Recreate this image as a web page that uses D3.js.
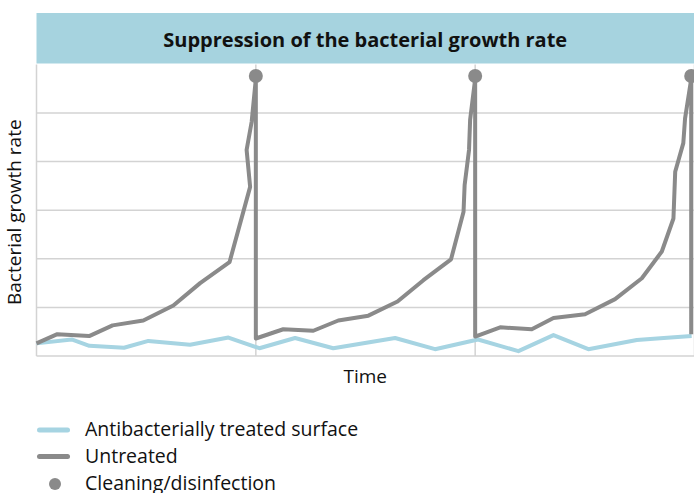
<!DOCTYPE html>
<html>
<head>
<meta charset="utf-8">
<script src="https://cdn.jsdelivr.net/npm/d3@7"></script>
<style>
  html, body { margin: 0; padding: 0; background: #fff; }
  svg { display: block; }
</style>
</head>
<body>
<svg id="chart"></svg>
<script>
/* ---------- data ---------- */
const TITLE = 'Suppression of the bacterial growth rate';
const Y_LABEL = 'Bacterial growth rate';
const X_LABEL = 'Time';

// [time, rate] – untreated surface, drops to the floor after each cleaning
const untreated = [
  [0, 0.26], [0.95, 0.45], [2.4, 0.41], [3.47, 0.63], [4.87, 0.73], [6.24, 1.04],
  [7.46, 1.50], [8.8, 1.93], [9.74, 3.48], [9.58, 4.24], [9.81, 4.82], [10, 5.7], [10, 0.36],
  [11.25, 0.55], [12.62, 0.52], [13.76, 0.73], [15.13, 0.83], [16.46, 1.12], [17.64, 1.56],
  [18.9, 1.99], [19.47, 2.97], [19.52, 3.52], [19.72, 4.24], [19.77, 4.86], [20, 5.7], [20, 0.40],
  [21.14, 0.59], [22.58, 0.55], [23.57, 0.78], [25.01, 0.86], [26.38, 1.17], [27.6, 1.6],
  [28.51, 2.15], [29.04, 2.83], [29.12, 3.79], [29.49, 4.38], [29.57, 4.89], [29.85, 5.7], [29.85, 0.45],
];

// [time, rate] – antibacterially treated surface
const treated = [
  [0, 0.26], [1.6, 0.34], [2.41, 0.21], [3.99, 0.17], [5.1, 0.31], [7.0, 0.23], [8.75, 0.38],
  [10.16, 0.16], [11.79, 0.37], [13.53, 0.16], [16.35, 0.37], [18.17, 0.14], [20.13, 0.34],
  [21.97, 0.10], [23.57, 0.43], [25.16, 0.14], [27.37, 0.33], [28.6, 0.37], [29.87, 0.41],
];

const cleanings = [10, 20, 29.85];
const cleaningLevel = 5.76;
const yTicks = [0, 1, 2, 3, 4, 5, 6];
const xTicks = [0, 10, 20, 30];

const legendItems = [
  { label: 'Antibacterially treated surface', kind: 'line', key: 'treated' },
  { label: 'Untreated', kind: 'line', key: 'untreated' },
  { label: 'Cleaning/disinfection', kind: 'dot', key: 'untreated' },
];

/* ---------- setup ---------- */
const COLORS = { treated: '#a6d4e2', untreated: '#8a8a8a', band: '#a6d3df', grid: '#d3d3d3', text: '#111' };
const W = 694, H = 493;
const M = { left: 36.5, right: 0, top: 64.4, bottom: 137 };
const FONT = '"Open Sans", Lato, sans-serif';

const svg = d3.select('#chart').attr('width', W).attr('height', H);

const x = d3.scaleLinear().domain([0, 30]).range([M.left, 694.5]);
const y = d3.scaleLinear().domain([0, 6]).range([H - M.bottom, M.top]);

// title band
svg.append('rect')
  .attr('x', M.left).attr('y', 13).attr('width', W - M.left).attr('height', 50.5)
  .attr('fill', COLORS.band);
svg.append('text')
  .attr('x', (M.left + W) / 2).attr('y', 46.5)
  .attr('text-anchor', 'middle')
  .attr('font-family', FONT).attr('font-weight', 700)
  .attr('font-size', '20px').attr('fill', COLORS.text)
  .text(TITLE);

// grid
const grid = svg.append('g');
grid.selectAll('line.h').data(yTicks.slice(0, -1)).join('line')
  .attr('class', 'h')
  .attr('x1', M.left).attr('x2', W)
  .attr('y1', d => y(d)).attr('y2', d => y(d))
  .attr('stroke', COLORS.grid).attr('stroke-width', 1.5);
grid.selectAll('line.v').data(xTicks).join('line')
  .attr('class', 'v')
  .attr('x1', d => x(d)).attr('x2', d => x(d))
  .attr('y1', M.top).attr('y2', y(0))
  .attr('stroke', COLORS.grid).attr('stroke-width', 1.5);

// axis labels
svg.append('text')
  .attr('transform', `translate(21,${(M.top + y(0)) / 2 + 2}) rotate(-90)`)
  .attr('text-anchor', 'middle')
  .attr('font-family', FONT).attr('font-size', '19px').attr('fill', COLORS.text)
  .text(Y_LABEL);
svg.append('text')
  .attr('x', (M.left + W) / 2).attr('y', 383)
  .attr('text-anchor', 'middle')
  .attr('font-family', FONT).attr('font-size', '19px').attr('fill', COLORS.text)
  .text(X_LABEL);

// series
const line = d3.line().x(d => x(d[0])).y(d => y(d[1]));

svg.append('path').datum(treated)
  .attr('d', line).attr('fill', 'none')
  .attr('stroke', COLORS.treated).attr('stroke-width', 4)
  .attr('stroke-linejoin', 'round');

svg.append('path').datum(untreated)
  .attr('d', line).attr('fill', 'none')
  .attr('stroke', COLORS.untreated).attr('stroke-width', 4)
  .attr('stroke-linejoin', 'round');

svg.selectAll('circle.clean').data(cleanings).join('circle')
  .attr('class', 'clean')
  .attr('cx', d => x(d)).attr('cy', y(cleaningLevel)).attr('r', 7)
  .attr('fill', COLORS.untreated);

// legend
const lg = svg.append('g');
legendItems.forEach((it, i) => {
  const cy = 430 + i * 26.5;
  if (it.kind === 'line') {
    lg.append('line')
      .attr('x1', 39.5).attr('x2', 67.5).attr('y1', cy).attr('y2', cy)
      .attr('stroke', COLORS[it.key]).attr('stroke-width', 5)
      .attr('stroke-linecap', 'round');
  } else {
    lg.append('circle').attr('cx', 55).attr('cy', cy + 1).attr('r', 6)
      .attr('fill', COLORS[it.key]);
  }
  lg.append('text')
    .attr('x', 85).attr('y', 436 + i * 27)
    .attr('font-family', FONT).attr('font-size', '19.5px').attr('fill', COLORS.text)
    .text(it.label);
});
</script>
</body>
</html>
